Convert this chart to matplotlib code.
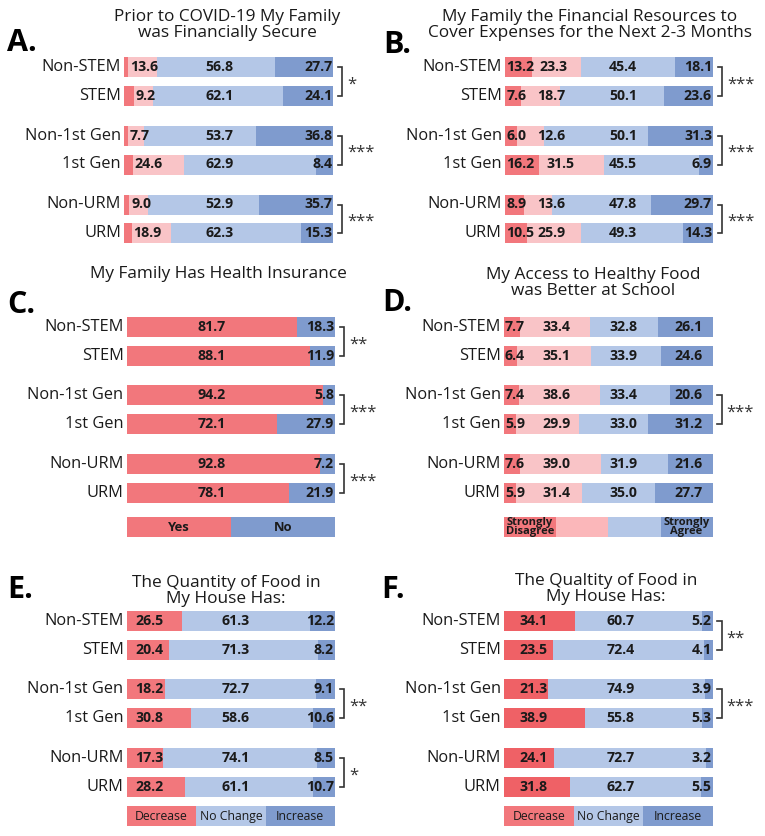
import matplotlib
matplotlib.use('Agg')
import matplotlib.pyplot as plt

plt.rcParams['font.family'] = ['Open Sans', 'DejaVu Sans']

W, H = 765, 836

groups = ['Non-STEM', 'STEM', 'Non-1st Gen', '1st Gen', 'Non-URM', 'URM']

# ---------------- data ----------------
a_title = "Prior to COVID-19 My Family\nwas Financially Secure"
a_sd = [1.9, 4.6, 1.8, 4.1, 2.4, 3.5]
a_d = [13.6, 9.2, 7.7, 24.6, 9.0, 18.9]
a_a = [56.8, 62.1, 53.7, 62.9, 52.9, 62.3]
a_sa = [27.7, 24.1, 36.8, 8.4, 35.7, 15.3]
a_sig = ['*', '***', '***']

b_title = "My Family the Financial Resources to\nCover Expenses for the Next 2-3 Months"
b_sd = [13.2, 7.6, 6.0, 16.2, 8.9, 10.5]
b_d = [23.3, 18.7, 12.6, 31.5, 13.6, 25.9]
b_a = [45.4, 50.1, 50.1, 45.5, 47.8, 49.3]
b_sa = [18.1, 23.6, 31.3, 6.9, 29.7, 14.3]
b_sig = ['***', '***', '***']

c_title = "My Family Has Health Insurance"
c_yes = [81.7, 88.1, 94.2, 72.1, 92.8, 78.1]
c_no = [18.3, 11.9, 5.8, 27.9, 7.2, 21.9]
c_sig = ['**', '***', '***']
c_legend = ['Yes', 'No']

d_title = "My Access to Healthy Food\nwas Better at School"
d_sd = [7.7, 6.4, 7.4, 5.9, 7.6, 5.9]
d_d = [33.4, 35.1, 38.6, 29.9, 39.0, 31.4]
d_a = [32.8, 33.9, 33.4, 33.0, 31.9, 35.0]
d_sa = [26.1, 24.6, 20.6, 31.2, 21.6, 27.7]
d_sig = [None, '***', None]
d_legend = ['Strongly\nDisagree', '', '', 'Strongly\nAgree']

e_title = "The Quantity of Food in\nMy House Has:"
e_dec = [26.5, 20.4, 18.2, 30.8, 17.3, 28.2]
e_nc = [61.3, 71.3, 72.7, 58.6, 74.1, 61.1]
e_inc = [12.2, 8.2, 9.1, 10.6, 8.5, 10.7]
e_sig = [None, '**', '*']
ef_legend = ['Decrease', 'No Change', 'Increase']

f_title = "The Qualtity of Food in\nMy House Has:"
f_dec = [34.1, 23.5, 21.3, 38.9, 24.1, 31.8]
f_nc = [60.7, 72.4, 74.9, 55.8, 72.7, 62.7]
f_inc = [5.2, 4.1, 3.9, 5.3, 3.2, 5.5]
f_sig = ['**', '***', None]

# ---------------- style ----------------
RED = '#F2777C'
RED_F = '#EF6166'
PINK = '#F9C4C7'
LBLUE = '#B4C7E7'
BLUE = '#7F9BCE'
TXT = '#1a1a1a'

row_off = [0, 29, 68.5, 97.5, 137.5, 166]
BAR_H = 20

fig = plt.figure(figsize=(W / 100, H / 100), dpi=100)


def make_ax(x0, x1):
    ax = fig.add_axes([x0 / W, 0, (x1 - x0) / W, 1])
    ax.set_xlim(0, 100)
    ax.set_ylim(H, 0)
    ax.axis('off')
    return ax


def panel(x0, x1, top, series, colors, specs, sig, letter, letter_xy,
          title, title_xy, legend=None, legend_dy=200, legend_colors=None,
          legend_style=None):
    ax = make_ax(x0, x1)
    pxu = 100.0 / (x1 - x0)
    ys = [top + o for o in row_off]
    lefts = [0.0] * len(ys)
    for ser, col, spec in zip(series, colors, specs):
        ax.barh(ys, ser, left=lefts, height=BAR_H, color=col, linewidth=0)
        for y, v, l in zip(ys, ser, lefts):
            if spec is None:
                continue
            mode, p = spec
            s = f"{v:.1f}"
            kw = dict(va='center', fontsize=10.2, fontweight='bold', color=TXT)
            if mode == 'left':
                ax.text(p, y, s, ha='left', **kw)
            elif mode == 'segleft':
                ax.text(l + p, y, s, ha='left', **kw)
            elif mode == 'bleft':
                ax.text(max(l + 3.5, p), y, s, ha='left', **kw)
            elif mode == 'center':
                ax.text(p, y, s, ha='center', **kw)
            elif mode == 'right':
                ax.text(p, y, s, ha='right', **kw)
        lefts = [l + v for l, v in zip(lefts, ser)]
    # row labels
    for y, g in zip(ys, groups):
        ax.text(-3.2 * pxu, y, g, ha='right', va='center', fontsize=11.8,
                color=TXT)
    # significance brackets
    bx = 100 + 9 * pxu
    tk = 4.5 * pxu
    for i, s in enumerate(sig):
        if not s:
            continue
        y1, y2 = ys[2 * i], ys[2 * i + 1]
        ax.plot([bx - tk, bx, bx, bx - tk], [y1, y1, y2, y2], color='#333333',
                lw=1.2, clip_on=False, solid_joinstyle='miter')
        ax.text(bx + 5 * pxu, (y1 + y2) / 2 + 3, s, ha='left', va='center',
                fontsize=12, color='#333333', clip_on=False)
    # legend bar
    if legend is not None:
        ly = ys[-1] + legend_dy
        n = len(legend)
        w = 100.0 / n
        for k, (lab, col) in enumerate(zip(legend, legend_colors)):
            ax.barh([ly], [w], left=[k * w], height=BAR_H, color=col,
                    linewidth=0)
            if lab:
                ax.text(k * w + w / 2, ly + 0.5, lab, ha='center', va='center',
                        linespacing=0.82, color=TXT, **legend_style)
    # letter & title
    fig.text(letter_xy[0] / W, 1 - letter_xy[1] / H, letter, fontsize=22,
             fontweight='bold', ha='left', va='center', color='black')
    fig.text(title_xy[0] / W, 1 - title_xy[1] / H, title, fontsize=12.4,
             ha='center', va='center', linespacing=1.05, color=TXT)
    return ax


# A
panel(124.3, 333.3, 67, [a_sd, a_d, a_a, a_sa], [RED, PINK, LBLUE, BLUE],
      [None, ('segleft', 0.9), ('center', 45.5), ('right', 99.5)],
      a_sig, 'A.', (7, 43), a_title, (227, 25))
# B
panel(505, 713, 67, [b_sd, b_d, b_a, b_sa], [RED, PINK, LBLUE, BLUE],
      [('left', 0.6), ('bleft', 15.5), ('center', 56.8), ('right', 99.5)],
      b_sig, 'B.', (383, 45), b_title, (590, 25))
# C
panel(126.7, 335, 326.7, [c_yes, c_no], [RED, BLUE],
      [('center', 41), ('right', 99.5)],
      c_sig, 'C.', (7, 305), c_title, (218, 274),
      legend=c_legend, legend_dy=200 - 166, legend_colors=[RED, BLUE],
      legend_style=dict(fontsize=9.4, fontweight='bold'))
# D
panel(504, 712.7, 326.7, [d_sd, d_d, d_a, d_sa], [RED, PINK, LBLUE, BLUE],
      [('left', 0.4), ('center', 25), ('center', 57.4), ('right', 95.3)],
      d_sig, 'D.', (382, 303), d_title, (593, 283),
      legend=d_legend, legend_dy=200 - 166,
      legend_colors=[RED, '#FBB7BA', LBLUE, BLUE],
      legend_style=dict(fontsize=8.0, fontweight='bold'))
# E
panel(126.7, 335, 620.7, [e_dec, e_nc, e_inc], [RED, LBLUE, BLUE],
      [('left', 4.0), ('center', 52.2), ('right', 99.5)],
      e_sig, 'E.', (7, 590), e_title, (226, 591),
      legend=ef_legend, legend_dy=195.5 - 166, legend_colors=[RED, LBLUE, BLUE],
      legend_style=dict(fontsize=8.8))
# F
panel(504, 712.7, 620.7, [f_dec, f_nc, f_inc], [RED_F, LBLUE, BLUE],
      [('left', 7.3), ('center', 55.8), ('right', 99.5)],
      f_sig, 'F.', (381, 590), f_title, (606, 589),
      legend=ef_legend, legend_dy=195.5 - 166, legend_colors=[RED, LBLUE, BLUE],
      legend_style=dict(fontsize=8.8))

fig.savefig('out.png', dpi=100)
